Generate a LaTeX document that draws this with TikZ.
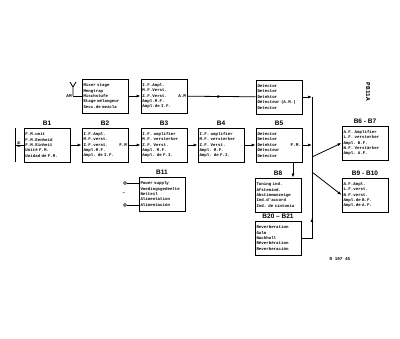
\documentclass[tikz,border=0pt]{standalone}
\usepackage{fontspec}
\setmainfont{Liberation Sans}
\setmonofont{Liberation Mono}
\usetikzlibrary{positioning, arrows.meta, decorations.markings}

\tikzset{
  unit/.style={draw, line width=0.8pt, inner sep=1.5pt, text width=43pt,
    minimum height=34pt, align=left,
    font=\fontsize{4.1}{5.4}\selectfont\ttfamily\bfseries},
  blabel/.style={font=\fontsize{6.5}{7}\selectfont\bfseries, inner sep=1pt},
  tag/.style={font=\fontsize{4.3}{5}\selectfont\ttfamily\bfseries, inner sep=1pt},
  arr/.style={-{Latex[length=4pt,width=3pt]}},
  midarrow/.style={postaction={decorate,decoration={markings,
    mark=at position #1 with {\arrow{Latex[length=4pt,width=3pt]}}}}},
  term/.style={circle, draw, line width=0.5pt, fill=white, inner sep=0pt, minimum size=3.2pt},
}

\begin{document}
\begin{tikzpicture}[x=1pt, y=-1pt, line width=0.8pt]
  \useasboundingbox (0,0) rectangle (400,339);

  % AM branch
  \node[unit] (mixer) at (105,96) {Mixer stage\\Mengtrap\\Mischstufe\\Etage mélangeur\\Secc.de mezcla};
  \node[unit] (ifam) at (164,96) {I.F.Ampl.\\M.F.Verst.\\Z.F.Verst.\\Ampl.M.F.\\Ampl.de I.F.};
  \node[tag, anchor=east] (amtag) at (ifam.east) {A.M};
  \node[unit] (detam) at (279,97) {Detector\\Detector\\Detektor\\Détecteur (A.M.)\\Detector};

  % FM chain
  \node[unit] (b1) at (47,145) {F.M.unit\\F.M.Eenheid\\F.M.Einheit\\Unité F.M.\\Unidad de F.M.};
  \node[unit] (b2) at (105,145) {I.F.Ampl.\\M.F.verst.\\Z.F.verst.\\Ampl.M.F.\\Ampl. de I.F.};
  \node[tag, anchor=east] (fmtag) at (b2.east) {F.M};
  \node[unit] (b3) at (164,145) {I.F. amplifier\\M.F. versterker\\Z.F. Verst.\\Ampl. M.F.\\Ampl. de F.I.};
  \node[unit] (b4) at (221,145) {I.F. amplifier\\M.F. versterker\\Z.F. Verst.\\Ampl. M.F.\\Ampl. de F.I.};
  \node[unit] (b5) at (279,145) {Detector\\Detector\\Detektor\\Détecteur\\Detector};
  \node[tag, anchor=east] (fmdet) at (b5.east) {F.M.};

  \node[blabel, above=1pt of b1] (b1lab) {B1};
  \node[blabel, above=1pt of b2] (b2lab) {B2};
  \node[blabel, above=1pt of b3] (b3lab) {B3};
  \node[blabel, above=1pt of b4] (b4lab) {B4};
  \node[blabel, above=1pt of b5] (b5lab) {B5};

  % lower row
  \node[unit] (b11) at (162,194) {Power supply\\Voedingsgedeelte\\Netteil\\Alimentation\\Alimentación};
  \node[blabel, above=1pt of b11] (b11lab) {B11};
  \node[unit] (b8) at (278,195) {Tuning ind.\\Afstemind.\\Abstimmanzeige\\Ind.d'accord\\Ind. de sintonía};
  \node[blabel, above=1pt of b8] (b8lab) {B8};
  \node[unit] (b20) at (278,238) {Reverberation\\Galm\\Nachhall\\Réverbération\\Reverberación};
  \node[blabel, above=1pt of b20] (b20lab) {B20 -- B21};

  % outputs
  \node[unit] (b6) at (365,143) {A.F. Amplifier\\L.F. versterker\\Ampl. B.F.\\N.F. Verstärker\\Ampl. A.F.};
  \node[blabel, above=1pt of b6] (b6lab) {B6 - B7};
  \node[unit] (b9) at (365,195) {A.F.Ampl.\\L.F.verst.\\N.F.verst.\\Ampl.de B.F.\\Ampl.de A.F.};
  \node[blabel, above=1pt of b9] (b9lab) {B9 - B10};

  % aerials
  \coordinate (amant) at (73,96);
  \draw (amant) -- ++(0,-9) -- ++(-3,-5) ++(3,5) -- ++(3,-5);
  \node[tag, anchor=east] (amlab) at (amant) {AM};
  \draw (amant) -- (mixer.west);
  \coordinate (fmant) at (15,145);
  \draw (15,128) -- (15,162);
  \node[tag, rotate=90] (fmlab) at (19,145) {FM};
  \draw (fmant) -- (b1.west);

  % mains
  \node[term] (mainsa) at (125,183) {};
  \node[term] (mainsb) at (125,205) {};
  \node[tag] (mainsac) at (124,194) {\textasciitilde};
  \draw (mainsa) -- (mainsa -| b11.west);
  \draw (mainsb) -- (mainsb -| b11.west);

  % signal path
  \draw[arr] (b1) -- (b2);
  \draw[arr] (b2) -- (b3);
  \draw[arr] (b3) -- (b4);
  \draw[arr] (b4) -- (b5);
  \draw[arr] (mixer) -- (ifam);
  \draw[midarrow=0.5] (ifam) -- (detam);
  \draw[arr] ([xshift=14pt]b5.south) -- ([xshift=14pt]b5.south |- b8.north);

  % bus to output stages
  \coordinate (bustop) at (312,97);
  \coordinate (busfm) at (312,145);
  \coordinate (busa) at (312,157);
  \coordinate (busb) at (312,172);
  \coordinate (busbot) at (312,238);
  \draw[arr] (detam) -- (bustop);
  \draw (bustop) -- (busb);
  \draw[arr] (b5) -- (busfm);
  \draw[midarrow=0.4] (b20) -- (busbot) -- (busb);
  \draw[arr] (busa) -- (b6.west);
  \draw[arr] (busb) -- (b9.west);

  \node[tag, rotate=-90] (pbno) at (368,92) {\fontsize{6}{6}\selectfont PB11A};
  \node[tag] (rno) at (340,259) {R 197 45};
\end{tikzpicture}
\end{document}
